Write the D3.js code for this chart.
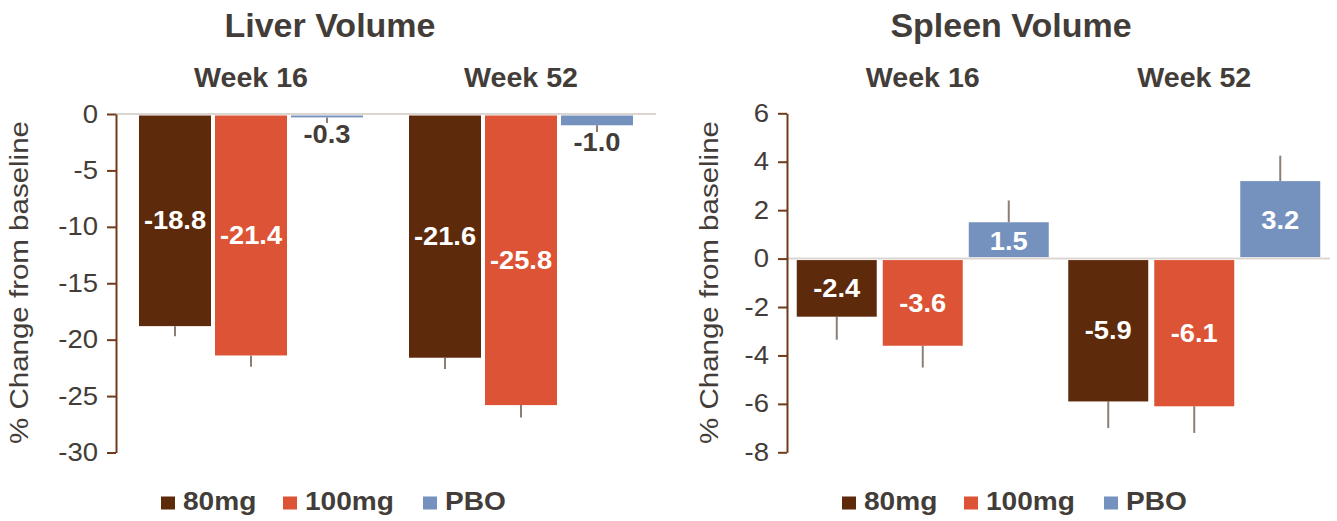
<!DOCTYPE html>
<html>
<head>
<meta charset="utf-8">
<script src="https://cdn.jsdelivr.net/npm/d3@7"></script>
<style>
  html, body { margin: 0; padding: 0; background: #fff; }
  svg { display: block; font-family: "Liberation Sans", Arial, sans-serif; }
</style>
</head>
<body>
<svg id="chart" width="1337" height="521"></svg>
<script>
// ---------- data ----------
const categories = ["Week 16", "Week 52"];
const seriesNames = ["80mg", "100mg", "PBO"];
const seriesColors = ["#5e2a0c", "#dc5336", "#7592be"];

const liver80 = [-18.8, -21.6];
const liver100 = [-21.4, -25.8];
const liverPBO = [-0.3, -1.0];
const liverErr80 = [0.9, 1.0];
const liverErr100 = [1.0, 1.1];
const liverErrPBO = [0.5, 0.6];
const liverTicks = [0, -5, -10, -15, -20, -25, -30];

const spleen80 = [-2.4, -5.9];
const spleen100 = [-3.6, -6.1];
const spleenPBO = [1.5, 3.2];
const spleenErr80 = [0.95, 1.1];
const spleenErr100 = [0.9, 1.1];
const spleenErrPBO = [0.9, 1.05];
const spleenTicks = [6, 4, 2, 0, -2, -4, -6, -8];

const yTitle = "% Change from baseline";

// ---------- helpers ----------
const svg = d3.select("#chart");
const TXT = "#433d39";

function stretchedText(g, x, y, str, size, weight, sx, fill, anchor) {
  return g.append("text")
    .attr("transform", `translate(${x},${y}) scale(${sx},1)`)
    .attr("text-anchor", anchor || "middle")
    .attr("font-size", size)
    .attr("font-weight", weight)
    .attr("fill", fill)
    .text(str);
}

function panel(cfg) {
  const g = svg.append("g");
  const y = d3.scaleLinear().domain(cfg.domain).range(cfg.yRange);
  const x0 = d3.scaleBand().domain(categories).range(cfg.xRange).paddingInner(0).paddingOuter(0);
  const x1 = d3.scaleBand().domain(seriesNames)
    .range([cfg.groupPad, x0.bandwidth() - cfg.groupPad])
    .paddingInner(cfg.barPad).paddingOuter(0);

  // zero line
  g.append("line")
    .attr("x1", cfg.xRange[0]).attr("x2", cfg.xRange[1])
    .attr("y1", y(0)).attr("y2", y(0))
    .attr("stroke", "#dcd6d3").attr("stroke-width", 2);

  const rows = [];
  seriesNames.forEach((s, si) => {
    categories.forEach((c, ci) => {
      rows.push({ s, si, c, v: cfg.values[si][ci], e: cfg.errs[si][ci] });
    });
  });

  // error bars
  g.selectAll(".err").data(rows).enter().append("line")
    .attr("x1", d => x0(d.c) + x1(d.s) + x1.bandwidth() / 2)
    .attr("x2", d => x0(d.c) + x1(d.s) + x1.bandwidth() / 2)
    .attr("y1", d => y(d.v))
    .attr("y2", d => y(d.v + Math.sign(d.v) * d.e))
    .attr("stroke", "#8c7d75").attr("stroke-width", 2);

  // bars
  g.selectAll(".bar").data(rows).enter().append("rect")
    .attr("x", d => x0(d.c) + x1(d.s))
    .attr("width", x1.bandwidth())
    .attr("y", d => Math.min(y(d.v), y(0)) + (d.v < 0 ? 1.5 : 0))
    .attr("height", d => Math.abs(y(d.v) - y(0)) - 1.5)
    .attr("fill", d => seriesColors[d.si]);

  // value labels
  const fs = 26;
  rows.forEach(d => {
    const cx = x0(d.c) + x1(d.s) + x1.bandwidth() / 2;
    const h = Math.abs(y(d.v) - y(0));
    if (h > 30) {
      const cy = (y(d.v) + y(0)) / 2;
      stretchedText(g, cx, cy + fs * 0.36, d.v.toFixed(1), fs, "bold", 1.05, "#ffffff");
    } else {
      stretchedText(g, cx, y(d.v) + 26, d.v.toFixed(1), fs, "bold", 1.05, TXT);
    }
  });

  // axis
  const ax = g.append("g")
    .attr("transform", `translate(${cfg.xRange[0]},0)`)
    .call(d3.axisLeft(y).tickValues(cfg.ticks).tickFormat(d => String(d))
      .tickSize(9).tickSizeOuter(0).tickPadding(9));
  ax.select(".domain").attr("stroke", "#6f3b1a").attr("stroke-width", 2);
  ax.selectAll(".tick line").attr("stroke", "#6f3b1a").attr("stroke-width", 2);
  const tsx = 1.1;
  ax.selectAll(".tick text")
    .attr("font-size", 25).attr("font-family", "Liberation Sans, Arial, sans-serif")
    .attr("fill", TXT)
    .attr("x", -18 / tsx)
    .attr("transform", `scale(${tsx},1)`);

  // y title
  g.append("text")
    .attr("transform", `translate(${cfg.yTitleX},282.5) rotate(-90) scale(1.18,1)`)
    .attr("text-anchor", "middle")
    .attr("font-size", 25)
    .attr("fill", TXT)
    .text(yTitle);

  // panel title
  g.append("text")
    .attr("x", cfg.titleX).attr("y", 37)
    .attr("text-anchor", "middle")
    .attr("font-size", 34).attr("font-weight", "bold")
    .attr("fill", TXT)
    .text(cfg.title);

  // week labels
  categories.forEach(c => {
    stretchedText(g, x0(c) + x0.bandwidth() / 2, 86.5, c, 27, "bold", 1.06, TXT);
  });

  // legend
  const legOff = [0, 122, 262];
  seriesNames.forEach((s, i) => {
    const lx = cfg.legendX + legOff[i];
    g.append("rect").attr("x", lx).attr("y", 496.5).attr("width", 14).attr("height", 13)
      .attr("fill", seriesColors[i]);
    stretchedText(g, lx + 22, 510, s, 26, "bold", 1.08, TXT, "start");
  });
}

panel({
  title: "Liver Volume", titleX: 330,
  domain: [-30, 0], yRange: [452.5, 114],
  xRange: [116, 656], groupPad: 23, barPad: 4 / 76,
  values: [liver80, liver100, liverPBO],
  errs: [liverErr80, liverErr100, liverErrPBO],
  ticks: liverTicks, yTitleX: 28, legendX: 161
});

panel({
  title: "Spleen Volume", titleX: 1011,
  domain: [-8, 6], yRange: [452.3, 113.3],
  xRange: [787, 1330], groupPad: 9.75, barPad: 0.07,
  values: [spleen80, spleen100, spleenPBO],
  errs: [spleenErr80, spleenErr100, spleenErrPBO],
  ticks: spleenTicks, yTitleX: 718, legendX: 842
});
</script>
</body>
</html>
